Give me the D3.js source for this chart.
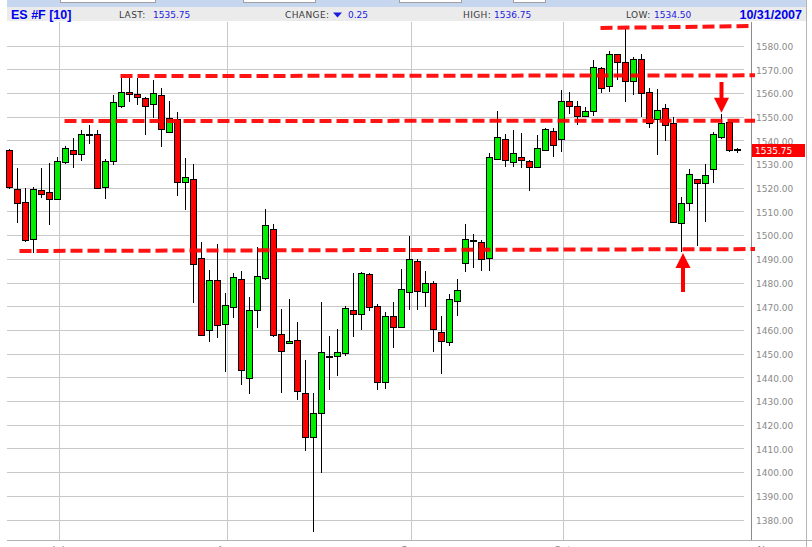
<!DOCTYPE html>
<html><head><meta charset="utf-8">
<script src="https://cdn.jsdelivr.net/npm/d3@7"></script>
<style>html,body{margin:0;padding:0;background:#fff;overflow:hidden}</style>
</head><body><svg id="c" width="812" height="547"></svg>
<script>
const symbol = "ES #F [10]";
const year = "2007";
const dates = ["6/22","6/25","6/26","6/27","6/28","6/29",
"7/2","7/3","7/5","7/6","7/9","7/10","7/11","7/12","7/13","7/16","7/17","7/18","7/19","7/20","7/23","7/24","7/25","7/26","7/27","7/30","7/31",
"8/1","8/2","8/3","8/6","8/7","8/8","8/9","8/10","8/13","8/14","8/15","8/16","8/17","8/20","8/21","8/22","8/23","8/24","8/27","8/28","8/29","8/30","8/31",
"9/4","9/5","9/6","9/7","9/10","9/11","9/12","9/13","9/14","9/17","9/18","9/19","9/20","9/21","9/24","9/25","9/26","9/27","9/28",
"10/1","10/2","10/3","10/4","10/5","10/8","10/9","10/10","10/11","10/12","10/15","10/16","10/17","10/18","10/19","10/22","10/23","10/24","10/25","10/26","10/29","10/30","10/31"];
const open = [1535.9,1519.5,1513.8,1498.2,1518.9,1518.1,1515.1,1530.7,1535.8,1534.1,1542.5,1542.5,1520.2,1531.1,1554.6,1560.3,1559.4,1557.7,1555.2,1559.0,1543.4,1549.1,1522.3,1523.5,1490.2,1459.8,1480.9,
1462.4,1469.5,1481.4,1439.6,1468.3,1481.8,1502.4,1458.1,1454.3,1455.6,1433.2,1414.7,1424.8,1449.1,1448.9,1450.1,1468.3,1466.6,1483.5,1470.0,1438.1,1465.7,1461.4,
1475.9,1488.9,1476.1,1479.7,1459.0,1454.8,1472.0,1488.1,1497.9,1497.2,1490.2,1532.0,1540.7,1530.7,1533.1,1531.4,1528.6,1535.8,1544.0,
1540.4,1556.6,1554.5,1550.4,1552.2,1570.4,1562.8,1576.3,1572.9,1564.9,1574.4,1560.3,1548.9,1553.5,1547.2,1505.0,1513.4,1523.5,1521.9,1527.8,1541.5,1547.6,1536.25];
const high = [1536.5,1528.4,1520.0,1520.4,1528.4,1530.3,1533.1,1537.5,1540.8,1544.3,1546.5,1544.3,1532.1,1559.1,1566.2,1566.2,1566.2,1558.4,1565.4,1561.9,1556.6,1551.8,1532.7,1530.0,1497.2,1485.3,1496.2,
1475.4,1483.9,1485.0,1474.0,1495.1,1511.0,1504.7,1468.8,1473.0,1463.3,1447.3,1433.2,1471.8,1457.4,1460.4,1470.1,1484.0,1484.4,1484.0,1470.8,1467.6,1471.9,1485.6,
1499.7,1489.8,1484.9,1480.6,1465.9,1475.0,1481.4,1504.7,1500.5,1497.9,1534.5,1552.4,1542.7,1544.3,1543.2,1531.7,1542.2,1545.0,1545.3,
1561.2,1560.5,1556.6,1553.9,1573.9,1571.1,1577.7,1576.5,1586.8,1575.0,1576.4,1561.9,1561.6,1555.3,1549.7,1516.0,1527.9,1523.7,1530.0,1543.4,1551.0,1548.1,1536.75];
const low = [1519.5,1505.2,1497.2,1492.3,1515.5,1504.4,1515.0,1530.0,1528.4,1531.4,1538.3,1519.3,1515.4,1529.7,1553.5,1556.3,1554.9,1542.2,1549.3,1537.3,1543.0,1516.5,1510.6,1471.2,1457.5,1455.0,1456.5,
1442.4,1464.9,1436.8,1432.8,1460.9,1481.0,1456.9,1433.2,1454.0,1430.5,1409.0,1374.9,1399.7,1434.6,1440.7,1449.1,1457.1,1460.0,1468.0,1434.6,1435.1,1452.5,1461.0,
1468.4,1468.4,1469.8,1450.5,1441.3,1453.3,1466.0,1484.6,1486.0,1485.0,1485.0,1531.7,1528.9,1528.9,1528.2,1518.7,1528.4,1535.6,1533.1,
1535.2,1551.1,1546.5,1550.0,1550.4,1559.8,1560.5,1565.4,1556.3,1559.1,1550.0,1545.3,1533.8,1539.8,1505.0,1492.7,1510.3,1495.5,1505.7,1521.9,1540.5,1534.9,1534.5];
const close = [1520.3,1513.4,1497.8,1519.3,1517.2,1515.1,1531.3,1536.8,1534.1,1542.5,1542.5,1519.7,1531.3,1556.0,1560.4,1559.4,1558.4,1554.5,1559.8,1544.6,1549.3,1522.3,1524.6,1487.7,1457.7,1480.9,1461.9,
1470.4,1482.2,1443.0,1468.3,1482.6,1504.3,1457.7,1451.0,1455.2,1434.1,1414.7,1424.8,1450.5,1449.1,1450.5,1469.1,1466.6,1483.9,1469.5,1438.1,1465.7,1461.4,1477.1,
1489.8,1476.4,1479.7,1460.2,1455.2,1472.9,1476.7,1498.2,1497.9,1489.8,1533.1,1541.5,1531.7,1534.5,1531.7,1528.6,1536.6,1544.6,1537.9,
1556.5,1554.5,1550.4,1552.2,1570.8,1562.2,1576.3,1572.9,1564.9,1574.4,1559.8,1547.2,1552.8,1546.3,1505.4,1513.7,1525.7,1521.9,1525.4,1542.5,1547.2,1536.0,1535.75];
const yTickValues = [1380,1390,1400,1410,1420,1430,1440,1450,1460,1470,1480,1490,1500,1510,1520,1530,1540,1550,1560,1570,1580];
const monthLabels = ["Jul","Aug","Sep","Oct","Nov"];
const monthFirstDay = ["7/2","8/1","9/4","10/1","11/1"];
// hand-drawn support / resistance levels (price at start, price at end, start session)
const levelFrom = ["10/8","7/13","7/3","6/25"];
const levelStartPrice = [1587.4,1567.1,1548.1,1493.3];
const levelEndPrice = [1588.2,1567.4,1548.3,1494.1];
// arrows: session, tail price, tip price
const arrowDay = ["10/29","10/22"];
const arrowTail = [1564.6,1476.0];
const arrowTip = [1551.6,1492.4];

const svg = d3.select("#c");
const W = 812, H = 547;
const plotTop = 22, plotBottom = 540, plotLeft = 7, gridRight = 744, axisX = 751;

const y = d3.scaleLinear().domain([1380,1580]).range([519.5,45.5]);
const x = d3.scalePoint().domain(dates).range([9.5,737.5]);
const xi = d3.scaleLinear().domain([0,dates.length-1]).range([9.5,737.5]);
const idx = d => dates.indexOf(d);
const xOf = d => idx(d) >= 0 ? x(d) : xi(dates.length - 1 + 3.6);

// header
svg.append("rect").attr("x",7).attr("y",0).attr("width",800).attr("height",7).attr("fill","#c6d6ef");
[[60,155],[243,315],[399,461],[513,545]].forEach(b=>{
  svg.append("rect").attr("x",b[0]+0.5).attr("y",-8.5).attr("width",b[1]-b[0]).attr("height",11)
    .attr("fill","#fff").attr("stroke","#a0a0a0");
});
svg.append("rect").attr("x",7).attr("y",7).attr("width",800).attr("height",14).attr("fill","#ebebeb");
const hdr = svg.append("g").attr("font-family","'DejaVu Sans',Verdana,sans-serif").attr("font-size","9px");
svg.append("text").attr("x",11).attr("y",18.5).attr("font-family","'Liberation Sans',Arial,sans-serif")
  .attr("font-weight","bold").attr("font-size","12.5px").attr("fill","#0000ee").text(symbol);
const n = dates.length - 1;
const fmt = d3.format(".2f");
const items = [
  ["LAST:",119,fmt(close[n]),153],
  ["CHANGE:",285,fmt(Math.abs(close[n]-close[n-1])),348],
  ["HIGH:",463,fmt(high[n]),494],
  ["LOW:",626,fmt(low[n]),654]
];
items.forEach(it=>{
  hdr.append("text").attr("x",it[1]).attr("y",18).attr("fill","#3a3a3a").attr("letter-spacing","0.4px").text(it[0]);
  hdr.append("text").attr("x",it[3]).attr("y",18).attr("fill","#1a1ae0").text(it[2]);
});
svg.append("path").attr("d","M333,12.5 L342,12.5 L337.5,17.5 Z").attr("fill","#1a1ae0");
svg.append("text").attr("x",802).attr("y",18.5).attr("text-anchor","end").attr("font-family","'Liberation Sans',Arial,sans-serif")
  .attr("font-weight","bold").attr("font-size","12.5px").attr("fill","#0000ee").text(dates[n]+"/"+year);

// grid
const grid = svg.append("g").attr("stroke","#c8c8c8").attr("stroke-width",1);
yTickValues.forEach(v=>{
  const yy = Math.round(y(v))+0.5;
  grid.append("line").attr("x1",plotLeft).attr("x2",gridRight).attr("y1",yy).attr("y2",yy);
});
monthFirstDay.slice(0,4).forEach(d=>{
  const xx = Math.round(x(d)+1)+0.5;
  grid.append("line").attr("x1",xx).attr("x2",xx).attr("y1",plotTop).attr("y2",plotBottom);
});
// frame
svg.append("line").attr("x1",plotLeft).attr("x2",W).attr("y1",plotBottom+0.5).attr("y2",plotBottom+0.5).attr("stroke","#b4b4b4");
svg.append("line").attr("x1",axisX+0.5).attr("x2",axisX+0.5).attr("y1",plotTop).attr("y2",plotBottom).attr("stroke","#8c8c8c");
svg.append("line").attr("x1",806.5).attr("x2",806.5).attr("y1",0).attr("y2",H).attr("stroke","#b4b4b4");

// y labels
const yl = svg.append("g").attr("font-family","'DejaVu Sans',Verdana,sans-serif").attr("font-size","9px").attr("fill","#8a8a8a");
yTickValues.forEach(v=>{
  yl.append("text").attr("x",756).attr("y",y(v)+4.3).text(fmt(v));
});
// x labels (mostly below the visible area, as in the source screenshot)
const xl = svg.append("g").attr("font-family","'DejaVu Sans',Verdana,sans-serif").attr("font-size","10px").attr("fill","#8a8a8a").attr("text-anchor","middle");
monthLabels.forEach((m,i)=>{
  xl.append("text").attr("x",xOf(monthFirstDay[i])+1).attr("y",554).text(m);
});

// candles
const cg = svg.append("g");
dates.forEach((d,i)=>{
  const cx = Math.round(x(d)-0.5)+0.5;
  cg.append("line").attr("x1",cx).attr("x2",cx).attr("y1",Math.round(y(high[i]))).attr("y2",Math.round(y(low[i])))
    .attr("stroke","#000").attr("stroke-width",1);
});
dates.forEach((d,i)=>{
  const cx = Math.round(x(d)-0.5)+0.5;
  const top = Math.round(y(Math.max(open[i],close[i])))+0.5;
  const bot = Math.round(y(Math.min(open[i],close[i])))+0.5;
  const up = close[i] > open[i], flat = close[i] === open[i];
  cg.append("rect").attr("x",cx-3).attr("y",top).attr("width",6).attr("height",Math.max(1,bot-top))
    .attr("fill", flat ? "#000" : (up ? "#00ee00" : "#ff0000")).attr("stroke","#000").attr("stroke-width",1);
});

// level lines
const lg = svg.append("g").attr("stroke","#ff0000").attr("stroke-width",4).attr("stroke-dasharray","12,5").attr("opacity",0.92);
levelFrom.forEach((d,i)=>{
  lg.append("line").attr("x1",x(d)+(i===3?2:-1)).attr("x2",i===0?750:755)
    .attr("y1",y(levelStartPrice[i])).attr("y2",y(levelEndPrice[i]));
});

// arrows
arrowDay.forEach((d,i)=>{
  const cx = x(d)+ (i===1?1.5:0);
  const yt = y(arrowTip[i]), ya = y(arrowTail[i]);
  const dir = ya < yt ? 1 : -1;
  const headLen = 15, hw = 7.5;
  svg.append("line").attr("x1",cx).attr("x2",cx).attr("y1",ya).attr("y2",yt - dir*headLen + dir*2)
    .attr("stroke","#ff0000").attr("stroke-width",4);
  svg.append("path").attr("d",`M${cx-hw},${yt-dir*headLen} L${cx+hw},${yt-dir*headLen} L${cx},${yt} Z`).attr("fill","#ff0000");
});

// last price tag
const lastY = y(close[n]);
svg.append("rect").attr("x",752).attr("y",Math.round(lastY-6.5)).attr("width",53).attr("height",13).attr("fill","#ff0000");
svg.append("text").attr("x",755).attr("y",lastY+3.5).attr("font-family","'DejaVu Sans',Verdana,sans-serif")
  .attr("font-size","9px").attr("fill","#fff").text(fmt(close[n]));
</script></body></html>
